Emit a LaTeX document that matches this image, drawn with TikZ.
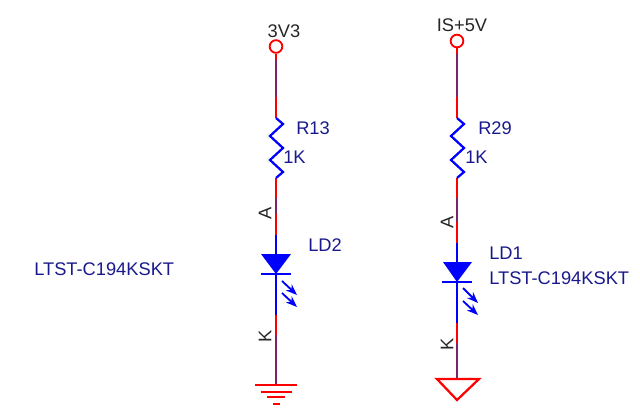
\documentclass[tikz,border=0pt]{standalone}
\usepackage{fontspec}
\setmainfont{Liberation Sans}
\usetikzlibrary{arrows.meta}
\definecolor{netcolor}{RGB}{125,35,105}
\definecolor{valuecolor}{RGB}{25,25,140}
\tikzset{
    redwire/.style={red,line width=1.6pt},
    netwire/.style={draw=netcolor,line width=1.8pt},
    bluewire/.style={blue,line width=1.6pt},
    power/.style={circle,draw=red,line width=1.3pt,inner sep=0pt,minimum size=9pt},
    value/.style={text=valuecolor,anchor=west,inner sep=0pt,font=\fontsize{13}{15}\selectfont},
    netname/.style={text=black!85,inner sep=0pt,font=\fontsize{13}{15}\selectfont},
    pinname/.style={text=black!85,inner sep=0pt,rotate=90,font=\fontsize{13}{15}\selectfont},
    light/.style={blue,line width=1.3pt,-{Stealth[length=8pt,width=6pt]}},
}
\begin{document}
\begin{tikzpicture}[x=0.025cm,y=-0.025cm]
\useasboundingbox (0,0) rectangle (640,414);
% left branch
\node[power] (pl) at (276,46.5) {};
\coordinate (l1) at (276,60);
\coordinate (l2) at (276,97);
\coordinate (l3) at (276,118);
\coordinate (l4) at (276,178);
\coordinate (l5) at (276,198);
\coordinate (l6) at (276,214);
\coordinate (l7) at (276,235);
\coordinate (la) at (276,274);
\coordinate (l8) at (276,315);
\coordinate (l9) at (276,335);
\coordinate (lg) at (276,385);
\draw[redwire] (pl) -- (l1);
\draw[redwire] (l2) -- (l3);
\draw[redwire] (l4) -- (l5);
\draw[redwire] (l6) -- (l7);
\draw[redwire] (l8) -- (l9);
\draw[netwire] (l1) -- (l2);
\draw[netwire] (l5) -- (l6);
\draw[netwire] (l9) -- (lg);
\draw[bluewire] (l3) -- (283,124) -- (270,136) -- (283,148) -- (270,160) -- (283,172) -- (l4);
\draw[bluewire] (l7) -- (la) -- (l8);
\fill[blue] (261,254) -- (291,254) -- (la) -- cycle;
\draw[bluewire] (261,274) -- (291,274);
\draw[light] (282,281) -- (297,295);
\draw[light] (282,293) -- (297,307);
\draw[redwire] (255,385) -- (297,385);
\draw[redwire] (261,392) -- (292,392);
\draw[redwire] (267,397) -- (285,397);
\draw[redwire] (273,404) -- (280,404);
% right branch
\node[power] (pr) at (457,41) {};
\coordinate (r1) at (457,54);
\coordinate (r2) at (457,97);
\coordinate (r3) at (457,118);
\coordinate (r4) at (457,178);
\coordinate (r5) at (457,198);
\coordinate (r6) at (457,222);
\coordinate (r7) at (457,243);
\coordinate (ra) at (457,282);
\coordinate (r8) at (457,323);
\coordinate (r9) at (457,343);
\coordinate (rg) at (457,379);
\draw[redwire] (pr) -- (r1);
\draw[redwire] (r2) -- (r3);
\draw[redwire] (r4) -- (r5);
\draw[redwire] (r6) -- (r7);
\draw[redwire] (r8) -- (r9);
\draw[netwire] (r1) -- (r2);
\draw[netwire] (r5) -- (r6);
\draw[netwire] (r9) -- (rg);
\draw[bluewire] (r3) -- (464,124) -- (451,136) -- (464,148) -- (451,160) -- (464,172) -- (r4);
\draw[bluewire] (r7) -- (ra) -- (r8);
\fill[blue] (443,262) -- (472,262) -- (ra) -- cycle;
\draw[bluewire] (442,282) -- (472,282);
\draw[light] (463,288) -- (478,303);
\draw[light] (463,301) -- (478,315);
\draw[redwire,line join=miter] (437,379) -- (479,379) -- (457,400) -- cycle;
% labels
\node[netname] (n3v3) at (284,31) {3V3};
\node[netname] (n5v) at (462,25) {IS+5V};
\node[value] (r13) at (296,128) {R13};
\node[value] (r13v) at (283,157) {1K};
\node[value] (r29) at (478,128) {R29};
\node[value] (r29v) at (465,157) {1K};
\node[value] (ld2) at (308,245) {LD2};
\node[value] (ld1) at (489,253) {LD1};
\node[value] (ld1v) at (489,278) {LTST-C194KSKT};
\node[value] (ld2v) at (34,269) {LTST-C194KSKT};
\node[pinname] (al) at (265,213) {A};
\node[pinname] (kl) at (265,336) {K};
\node[pinname] (ar) at (447,222) {A};
\node[pinname] (kr) at (447,344) {K};
\end{tikzpicture}
\end{document}
